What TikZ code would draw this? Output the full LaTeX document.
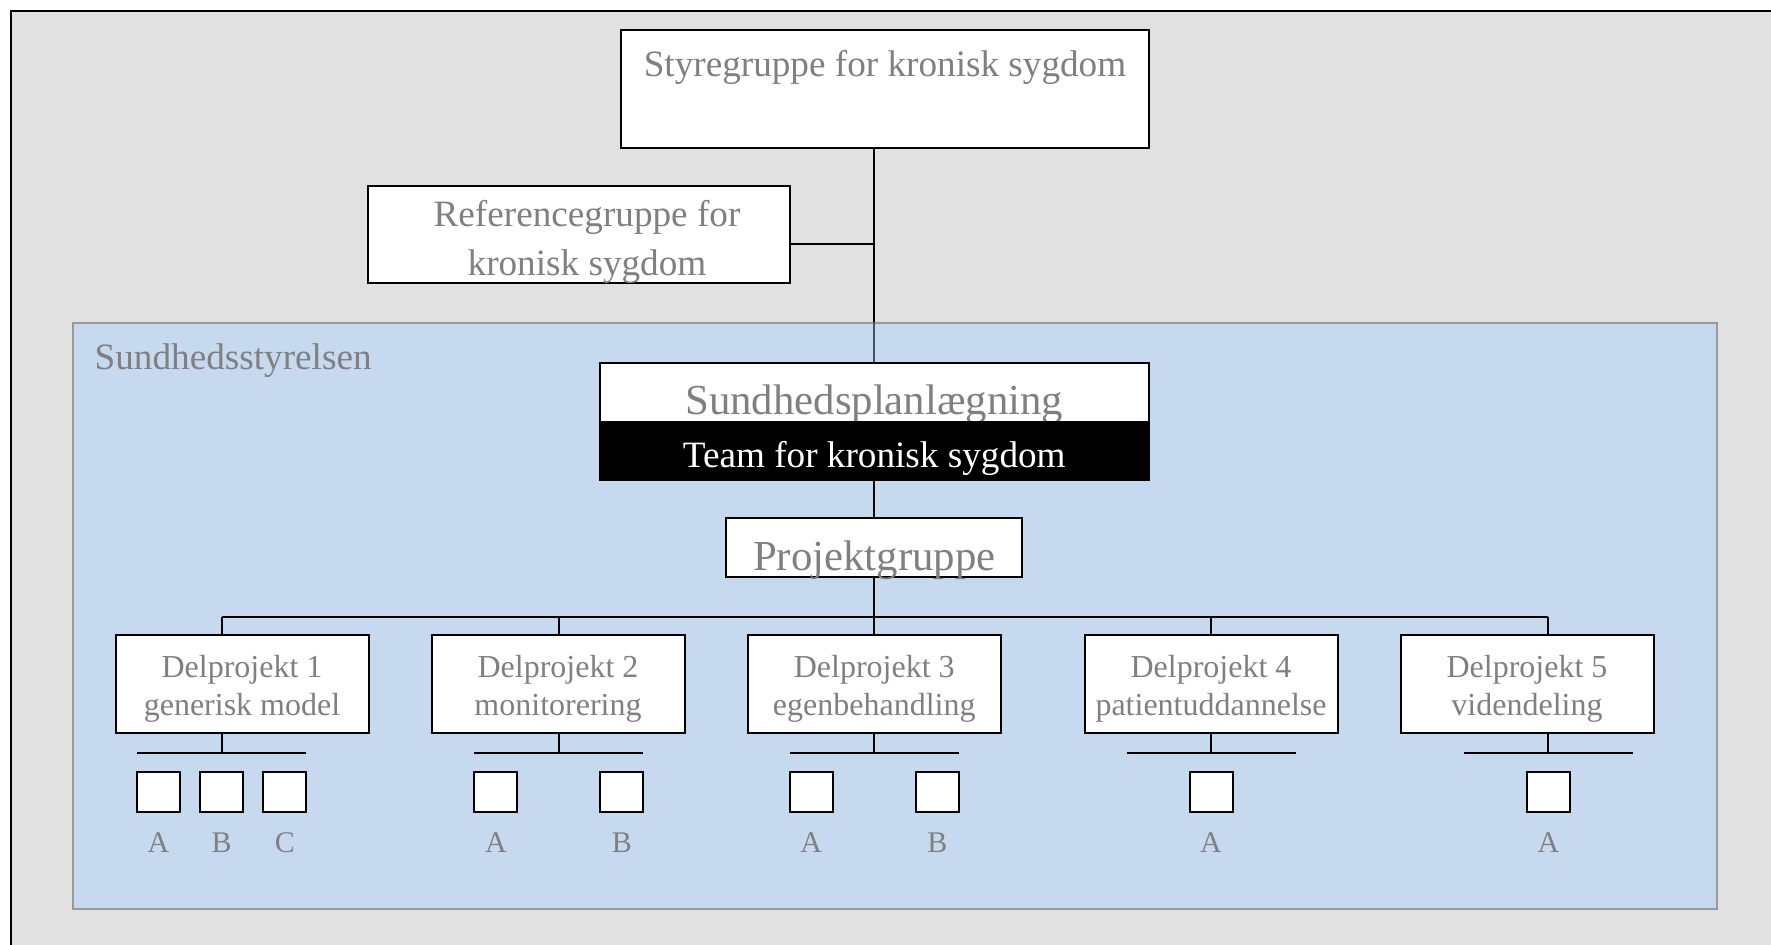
\documentclass[tikz,border=0pt]{standalone}
\usepackage{fontspec}
\setmainfont{Liberation Serif}
\usepackage{tikz}
\usetikzlibrary{positioning}
\definecolor{bggray}{HTML}{E1E1E1}
\definecolor{sstblue}{HTML}{C6D9EE}
\definecolor{sstedge}{HTML}{9A9A9A}
\definecolor{txtgray}{HTML}{808080}
\definecolor{linkblue}{HTML}{3D5570}
\newcommand{\midtxt}{\fontsize{18.6}{24.75}\selectfont}
\newcommand{\bigtxt}{\fontsize{21.4}{25}\selectfont}
\newcommand{\dptxt}{\fontsize{16}{19.2}\selectfont}
\newcommand{\subtxt}{\fontsize{15}{18}\selectfont}
\tikzstyle{box} = [draw=black, line width=1pt, fill=white, inner sep=0pt]
\tikzstyle{grey} = [text=txtgray, inner sep=0pt]
\tikzstyle{line} = [black, line width=1pt]
\tikzstyle{region} = [draw=sstedge, line width=1pt, fill=sstblue, inner sep=0pt]
\tikzstyle{subbox} = [box, minimum width=21.5pt, minimum height=20pt]

\begin{document}
\begin{tikzpicture}[x=0.5pt, y=-0.5pt]
        \useasboundingbox (0,0) rectangle (1771,945);
        \fill[white] (0,0) rectangle (1771,945);
        \fill[bggray] (11,11) rectangle (1771,945);
        \draw[black, line width=1pt] (11,945) -- (11,11) -- (1771,11);

        % Top groups
        \node[box, minimum width=264pt, minimum height=58.75pt] (styr) at (885,89.25) {};
        \node[grey, anchor=base, font=\midtxt] (styrtxt) at (885,77) {Styregruppe for kronisk sygdom};
        \node[box, minimum width=210.6pt, minimum height=48.5pt] (ref) at (579,235) {};
        \node[grey, align=center, font=\midtxt, xshift=4pt, yshift=-3.5pt] (reftxt) at (ref) {Referencegruppe for\\kronisk sygdom};

        % Sundhedsstyrelsen
        \node[region, minimum width=821.7pt, minimum height=293pt] (sst) at (895.1,616) {};
        \node[grey, anchor=base west, font=\midtxt] (ssttxt) at (94.3,369.3) {Sundhedsstyrelsen};

        \node[box, minimum width=274.5pt, minimum height=58.7pt] (plan) at (874.25,421.3) {};
        \node[grey, anchor=base, font=\bigtxt] (plantxt) at (874.25,415) {Sundhedsplanlægning};
        \fill[black] (plan.west) rectangle (plan.south east);
        \node[anchor=base, text=white, inner sep=0pt, font=\midtxt] (team) at (874.25,468) {Team for kronisk sygdom};

        \node[box, minimum width=148pt, minimum height=29.4pt] (proj) at (874.25,547.8) {};
        \node[grey, anchor=base, font=\bigtxt] (projtxt) at (874.25,571) {Projektgruppe};

        % Lines between groups
        \draw[line] (styr.south -| plan.north) -- (sst.north -| plan.north);
        \draw[line, linkblue] (sst.north -| plan.north) -- (plan.north);
        \draw[line] ([yshift=-4.5pt]ref.east) -- ([yshift=-4.5pt]ref.east -| plan.north);
        \draw[line] (plan.south) -- (proj.north);

        % Delprojekter
        \foreach \i/\x/\d/\t in {1/242/221.7/generisk model, 2/558/558.9/monitorering,
                3/874.25/874.25/egenbehandling, 4/1211/1211/patientuddannelse,
                5/1527/1548.4/videndeling} {
            \node[box, minimum width=126.5pt, minimum height=49pt] (dp\i) at (\x,684) {};
            \node[grey, align=center, font=\dptxt, yshift=-2.3pt] (dptxt\i) at (dp\i) {Delprojekt \i\\\t};
            \coordinate (bus\i) at (\d,617);
            \coordinate (bar\i) at (\d,752.7);
            \draw[line] (bus\i) -- (bus\i |- dp\i.north);
            \draw[line] (dp\i.south -| bar\i) -- (bar\i);
            \draw[line] ([xshift=-42.25pt]bar\i) -- ([xshift=42.25pt]bar\i);
        }
        \draw[line] (bus1) -- (bus5);
        \draw[line] (proj.south) -- (proj.south |- bus1);

        % Sub blocks
        \foreach \n/\x/\l in {1a/158.5/A, 1b/221.7/B, 1c/284.9/C, 2a/495.9/A, 2b/621.9/B,
                3a/811.25/A, 3b/937.25/B, 4a/1211/A, 5a/1548.4/A} {
            \node[subbox] (sb\n) at (\x,792) {};
            \node[grey, anchor=base, font=\subtxt] (sbl\n) at (\x,852) {\l};
        }
\end{tikzpicture}
\end{document}
